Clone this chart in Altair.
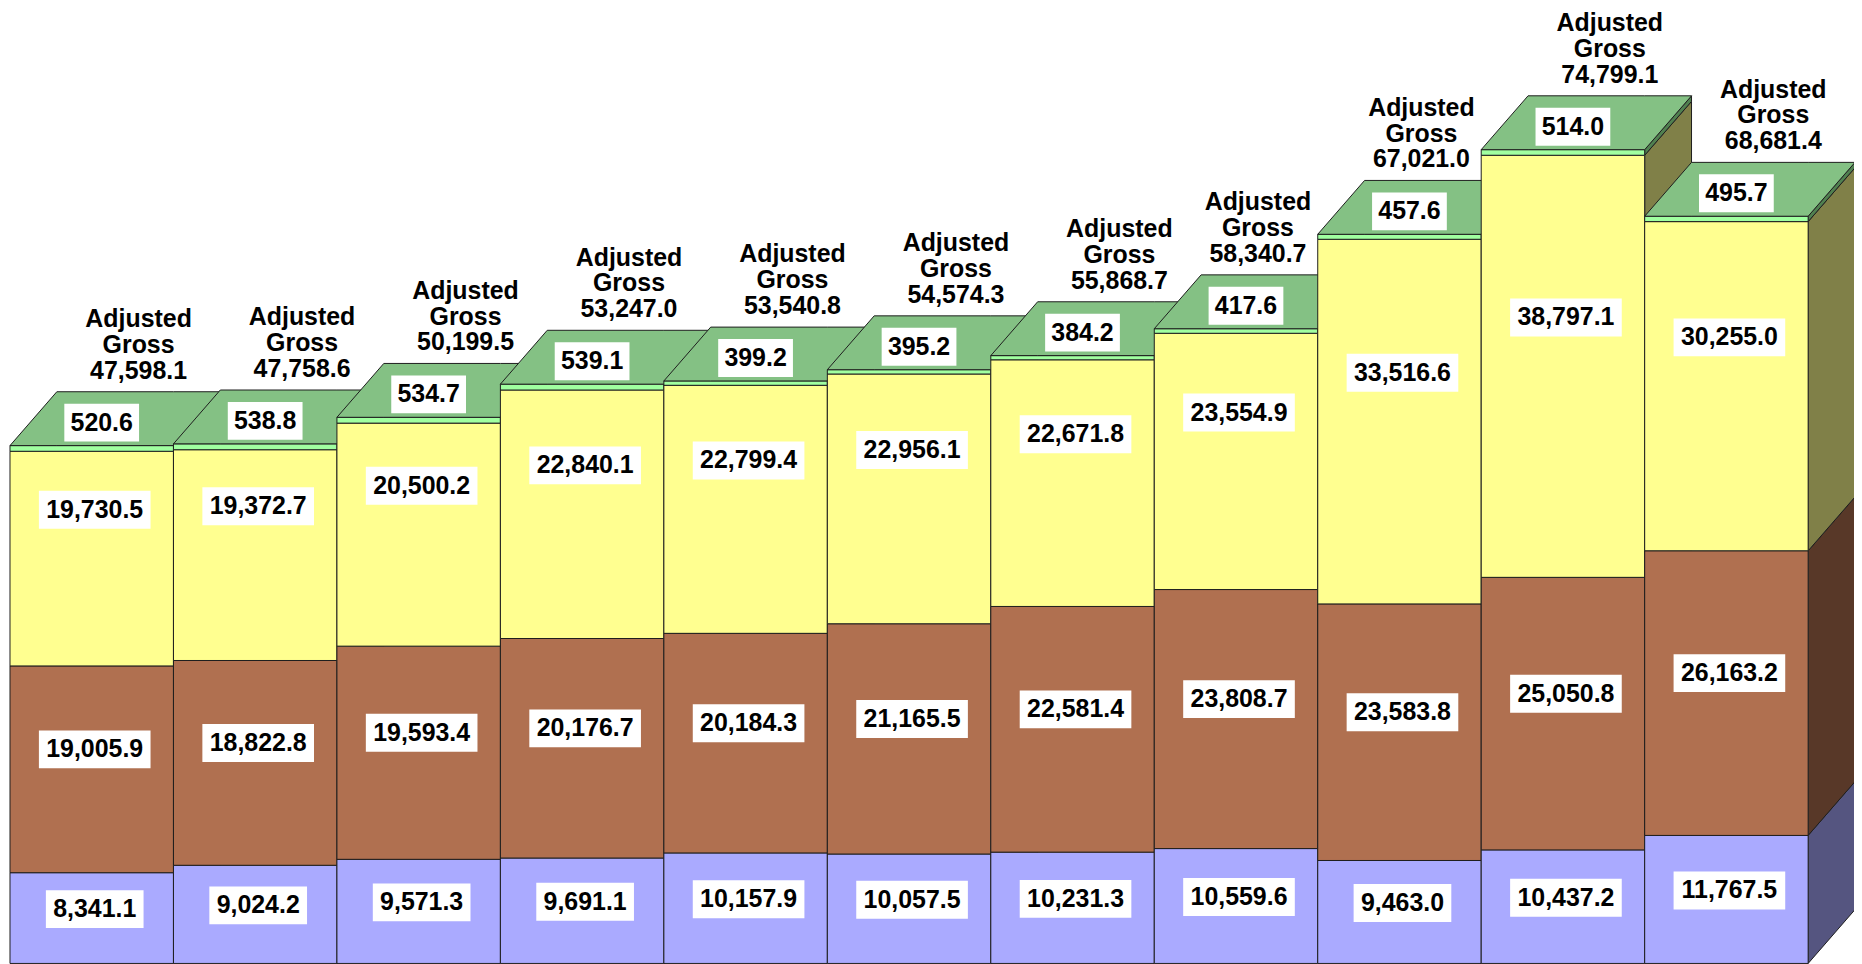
import altair as alt
import pandas as pd

# ---- data ----
blue = [8341.1, 9024.2, 9571.3, 9691.1, 10157.9, 10057.5, 10231.3, 10559.6, 9463.0, 10437.2, 11767.5]
brown = [19005.9, 18822.8, 19593.4, 20176.7, 20184.3, 21165.5, 22581.4, 23808.7, 23583.8, 25050.8, 26163.2]
yellow = [19730.5, 19372.7, 20500.2, 22840.1, 22799.4, 22956.1, 22671.8, 23554.9, 33516.6, 38797.1, 30255.0]
green = [520.6, 538.8, 534.7, 539.1, 399.2, 395.2, 384.2, 417.6, 457.6, 514.0, 495.7]
totals = [47598.1, 47758.6, 50199.5, 53247.0, 53540.8, 54574.3, 55868.7, 58340.7, 67021.0, 74799.1, 68681.4]
total_title = "Adjusted\nGross"

# ---- style ----
SEG_FRONT = ["#AAAAFF", "#B07050", "#FFFF90", "#A0FFA0"]
SEG_SIDE = ["#555580", "#583828", "#808048", "#508050"]
TOP_COLOR = "#84C184"
EDGE = "#1e1e1e"
DX = 0.2866          # depth offset along x (bar widths)
DEPTH = 4950         # depth offset along y (value units)
FONT = "Liberation Sans"
FS = 25
LABEL_YOFF = [-9, -20, -49]
BOX_W = {5: 75, 7: 98, 8: 112}
BOX_H = 38
PUSH_THRESHOLD = DEPTH + 1200   # next bar taller than this -> title label nudged left
PUSH_XOFF = -25

W, H = 1852, 956
XS = alt.Scale(domain=[-2 / 164, -2 / 164 + W / 164], nice=False, zero=False)
YS = alt.Scale(domain=[92, 87678], nice=False, zero=False)


def X(f):
    return alt.X(f, type="quantitative", scale=XS, axis=None)


def Y(f):
    return alt.Y(f, type="quantitative", scale=YS, axis=None)


segments = [blue, brown, yellow, green]
n = len(blue)
stack_tops = [sum(seg[i] for seg in segments) for i in range(n)]

layers = []
label_rows = []
green_rows = []
top_rows = []

for i in range(n):
    lows, highs = [], []
    acc = 0.0
    for s in range(4):
        lows.append(acc)
        acc += segments[s][i]
        highs.append(acc)
    top = acc

    # side faces
    side_rows = []
    for s in range(4):
        for xx, off in [(i + 1, 0), (i + 1 + DX, DEPTH)]:
            side_rows.append(dict(x=xx, y=lows[s] + off, y2=highs[s] + off,
                                  c=SEG_SIDE[s], seg=s))
    layers.append(
        alt.Chart(pd.DataFrame(side_rows))
        .mark_area(stroke=EDGE, strokeWidth=1)
        .encode(x=X("x"), y=Y("y"), y2=alt.Y2("y2"),
                color=alt.Color("c:N", scale=None), detail="seg:N")
    )

    # front faces
    front_rows = [dict(x=i, x2=i + 1, y=lows[s], y2=highs[s], c=SEG_FRONT[s]) for s in range(4)]
    layers.append(
        alt.Chart(pd.DataFrame(front_rows))
        .mark_rect(stroke=EDGE, strokeWidth=1)
        .encode(x=X("x"), x2=alt.X2("x2"), y=Y("y"), y2=alt.Y2("y2"),
                color=alt.Color("c:N", scale=None))
    )

    # top face
    tr = [
        dict(x=i, y=top, y2=top),
        dict(x=i + DX, y=top, y2=top + DEPTH),
        dict(x=i + 1, y=top, y2=top + DEPTH),
        dict(x=i + 1 + DX, y=top + DEPTH, y2=top + DEPTH),
    ]
    layers.append(
        alt.Chart(pd.DataFrame(tr))
        .mark_area(fill=TOP_COLOR, stroke=EDGE, strokeWidth=1)
        .encode(x=X("x"), y=Y("y"), y2=alt.Y2("y2"))
    )

    for s in range(3):
        txt = f"{segments[s][i]:,.1f}"
        label_rows.append(dict(x=i + 0.5, y=(lows[s] + highs[s]) / 2, t=txt,
                               n=len(txt), s=s))
    gtxt = f"{green[i]:,.1f}"
    green_rows.append(dict(x=i + 0.5, y=top + DEPTH / 2, t=gtxt, n=len(gtxt)))
    pushed = i + 1 < n and stack_tops[i + 1] > top + PUSH_THRESHOLD
    top_rows.append(dict(x=i + 0.5 + DX, y=top + DEPTH,
                         t=f"{total_title}\n{totals[i]:,.1f}", pushed=pushed))

lab = pd.DataFrame(label_rows)
for s in range(3):
    sub = lab[lab.s == s]
    for ln in sorted(sub.n.unique()):
        sub2 = sub[sub.n == ln]
        layers.append(
            alt.Chart(sub2).mark_rect(fill="white", width=BOX_W[int(ln)], height=BOX_H,
                                      xOffset=3, yOffset=LABEL_YOFF[s])
            .encode(x=X("x"), y=Y("y"))
        )
    layers.append(
        alt.Chart(sub).mark_text(font=FONT, fontSize=FS, fontWeight="bold", color="black",
                                 align="center", baseline="middle",
                                 xOffset=3, yOffset=LABEL_YOFF[s])
        .encode(x=X("x"), y=Y("y"), text="t:N")
    )

gdf = pd.DataFrame(green_rows)
layers.append(
    alt.Chart(gdf).mark_rect(fill="white", width=BOX_W[5], height=BOX_H, xOffset=10, yOffset=4)
    .encode(x=X("x"), y=Y("y"))
)
layers.append(
    alt.Chart(gdf).mark_text(font=FONT, fontSize=FS, fontWeight="bold", color="black",
                             align="center", baseline="middle", xOffset=10, yOffset=4)
    .encode(x=X("x"), y=Y("y"), text="t:N")
)

tdf = pd.DataFrame(top_rows)
for flag, xoff in [(False, 0), (True, PUSH_XOFF)]:
    part = tdf[tdf.pushed == flag].drop(columns="pushed")
    if len(part):
        layers.append(
            alt.Chart(part).mark_text(font=FONT, fontSize=FS, fontWeight="bold", color="black",
                                      align="center", baseline="alphabetic", lineBreak="\n",
                                      lineHeight=26, dy=-65, xOffset=xoff)
            .encode(x=X("x"), y=Y("y"), text="t:N")
        )

chart = (
    alt.layer(*layers)
    .properties(width=W, height=H, padding=0, background="white",
                autosize=alt.AutoSizeParams(type="none"))
    .configure_view(stroke=None)
)

chart.save("out.html", embed_options={"renderer": "svg", "actions": False})
